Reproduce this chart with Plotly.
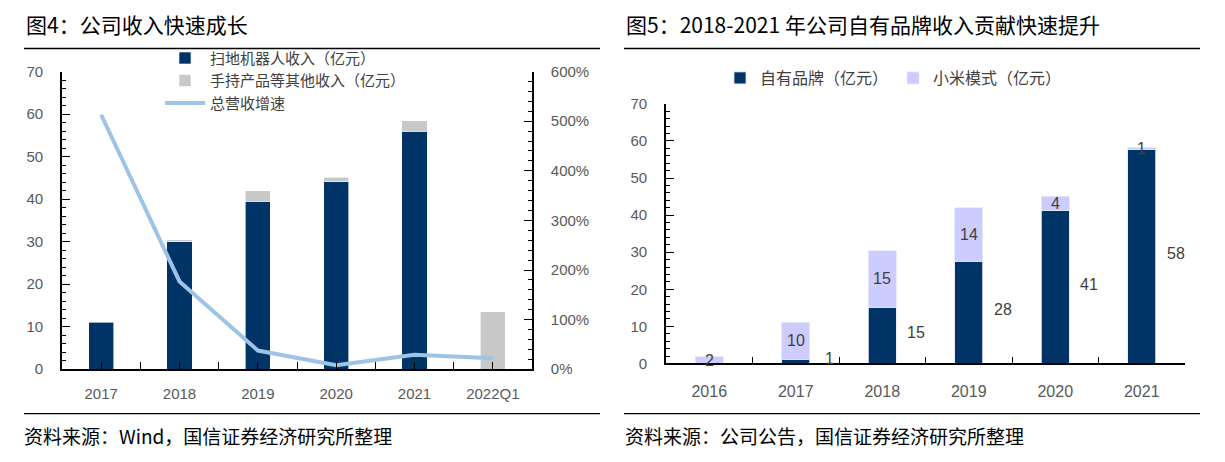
import plotly.graph_objects as go

W, H = 1225, 462


def px(x):
    return x / W


def py(y):
    return 1 - y / H


# ---------------- data ----------------
years_l = ["2017", "2018", "2019", "2020", "2021", "2022Q1"]
robot = [11.0, 30.0, 39.5, 44.1, 56.0, None]
other = [None, 0.5, 2.5, 1.1, 2.4, 13.5]
growth = [513, 177, 37.7, 7.9, 29, 22]  # %

years_r = ["2016", "2017", "2018", "2019", "2020", "2021"]
own = [0, 1.1, 15.2, 27.6, 41.2, 57.6]
xiaomi = [1.8, 10.0, 15.2, 14.4, 3.9, 0.7]
own_lbl = ["", "1", "15", "28", "41", "58"]
xiaomi_lbl = ["2", "10", "15", "14", "4", "1"]

# ---------------- style ----------------
NAVY = "#003366"
GRAY = "#C8C8C8"
LAV = "#CCCCFF"
LBLUE = "#9DC3E6"
TXT = "#595959"
CJK = "Noto Sans CJK SC"
NUM = "Liberation Sans, Noto Sans CJK SC"

fig = go.Figure()

fig.add_trace(go.Bar(x=years_l, y=robot, name="扫地机器人收入（亿元）",
                     marker=dict(color=NAVY, line=dict(color="white", width=0.6)),
                     xaxis="x", yaxis="y", legend="legend"))
fig.add_trace(go.Bar(x=years_l, y=other, name="手持产品等其他收入（亿元）",
                     marker=dict(color=GRAY, line=dict(color="white", width=0.6)),
                     xaxis="x", yaxis="y", legend="legend"))
fig.add_trace(go.Scatter(x=years_l, y=growth, name="总营收增速", mode="lines",
                         line=dict(color=LBLUE, width=4),
                         xaxis="x3", yaxis="y2", legend="legend"))

fig.add_trace(go.Bar(x=years_r, y=own, name="自有品牌（亿元）",
                     marker=dict(color=NAVY, line=dict(color="#E8E8F8", width=0.8)),
                     xaxis="x2", yaxis="y3", legend="legend2"))
fig.add_trace(go.Bar(x=years_r, y=xiaomi, name="小米模式（亿元）",
                     marker=dict(color=LAV, line=dict(color="#E8E8F8", width=0.8)),
                     xaxis="x2", yaxis="y3", legend="legend2"))

tickfont_l = dict(family=NUM, size=15, color=TXT)
tickfont_r = dict(family=NUM, size=16, color=TXT)

common_x = dict(type="category", ticks="inside", ticklen=7, tickcolor="black",
                tickwidth=1.3, showline=True, linecolor="black", linewidth=1.6,
                showgrid=False, zeroline=False)
common_y = dict(ticks="inside", ticklen=8, tickcolor="black", tickwidth=1.3,
                showline=True, linecolor="black", linewidth=1.6,
                showgrid=False, zeroline=False, ticklabelstandoff=14)

annotations = []
# titles
annotations.append(dict(text="图4：公司收入快速成长", x=px(24), y=py(16), xref="paper", yref="paper",
                        xanchor="left", yanchor="middle", showarrow=False,
                        font=dict(family=CJK, size=21, color="black")))
annotations.append(dict(text="图5：2018-2021 年公司自有品牌收入贡献快速提升", x=px(624), y=py(16),
                        xref="paper", yref="paper", xanchor="left", yanchor="middle",
                        showarrow=False, font=dict(family=CJK, size=21, color="black")))
# footers
annotations.append(dict(text="资料来源：Wind，国信证券经济研究所整理", x=px(22), y=py(443),
                        xref="paper", yref="paper", xanchor="left", yanchor="middle",
                        showarrow=False, font=dict(family=CJK, size=19, color="black")))
annotations.append(dict(text="资料来源：公司公告，国信证券经济研究所整理", x=px(623), y=py(443),
                        xref="paper", yref="paper", xanchor="left", yanchor="middle",
                        showarrow=False, font=dict(family=CJK, size=19, color="black")))

# value labels (right chart), positioned by category index on the category axis
for i, (o, xm, ol, xl) in enumerate(zip(own, xiaomi, own_lbl, xiaomi_lbl)):
    if ol:
        annotations.append(dict(text=ol, x=i, y=o / 2, xref="x2", yref="y3", xshift=34,
                                yshift=3, showarrow=False,
                                font=dict(family=NUM, size=16, color="#404040")))
    annotations.append(dict(text=xl, x=i, y=o + xm / 2, xref="x2", yref="y3",
                            showarrow=False, font=dict(family=NUM, size=16, color="#404040")))

shapes = []
for x0, x1 in ((24, 600), (624, 1200)):
    for yy in (41, 420):
        shapes.append(dict(type="line", xref="paper", yref="paper", x0=px(x0), x1=px(x1),
                           y0=py(yy), y1=py(yy), line=dict(color="black", width=1.3)))

fig.update_layout(
    width=W, height=H,
    margin=dict(l=0, r=0, t=0, b=0),
    paper_bgcolor="white", plot_bgcolor="white",
    barmode="stack", bargap=0.68,
    font=dict(family=CJK, color=TXT),
    xaxis=dict(domain=[px(62), px(532)], anchor="y", tickson="boundaries",
               range=[-0.5, len(years_l) - 0.5], categoryorder="array", categoryarray=years_l,
               tickfont=tickfont_l, ticklabelstandoff=10, **common_x),
    xaxis3=dict(overlaying="x", anchor="y", type="category", ticks="inside", ticklen=7,
                range=[-0.5, len(years_l) - 0.5], categoryorder="array", categoryarray=years_l,
                tickcolor="black", tickwidth=1.3, showticklabels=False, showline=False,
                showgrid=False, zeroline=False),
    yaxis=dict(domain=[py(374), py(65)], anchor="x", range=[0, 70], dtick=10,
               minor=dict(dtick=2, ticks="inside", ticklen=4, tickcolor="black", tickwidth=1.2),
               tickfont=tickfont_l, **common_y),
    yaxis2=dict(overlaying="y", side="right", anchor="x", range=[0, 600], dtick=100,
                ticksuffix="%",
                minor=dict(dtick=20, ticks="inside", ticklen=4, tickcolor="black", tickwidth=1.2),
                tickfont=tickfont_l, **common_y),
    xaxis2=dict(domain=[px(666), px(1185)], anchor="y3", tickson="boundaries",
                range=[-0.5, len(years_r) - 0.5], categoryorder="array", categoryarray=years_r,
                tickfont=tickfont_r, ticklabelstandoff=13, **common_x),
    yaxis3=dict(domain=[py(368), py(98.5)], anchor="x2", range=[0, 70], dtick=10,
                minor=dict(dtick=2, ticks="inside", ticklen=4, tickcolor="black", tickwidth=1.2),
                tickfont=tickfont_l, **common_y),
    legend=dict(x=px(160), y=py(34), xanchor="left", yanchor="top", traceorder="normal",
                font=dict(family=CJK, size=15, color="#404040"), bgcolor="rgba(0,0,0,0)",
                itemwidth=40),
    legend2=dict(orientation="h", x=px(720), y=py(54), xanchor="left", yanchor="top",
                 traceorder="normal", font=dict(family=CJK, size=16, color="#404040"),
                 bgcolor="rgba(0,0,0,0)"),
    annotations=annotations,
    shapes=shapes,
)

fig.write_html("out.html", config={"displayModeBar": False},
               post_script="document.body.style.margin='0';document.body.style.overflow='hidden';")
